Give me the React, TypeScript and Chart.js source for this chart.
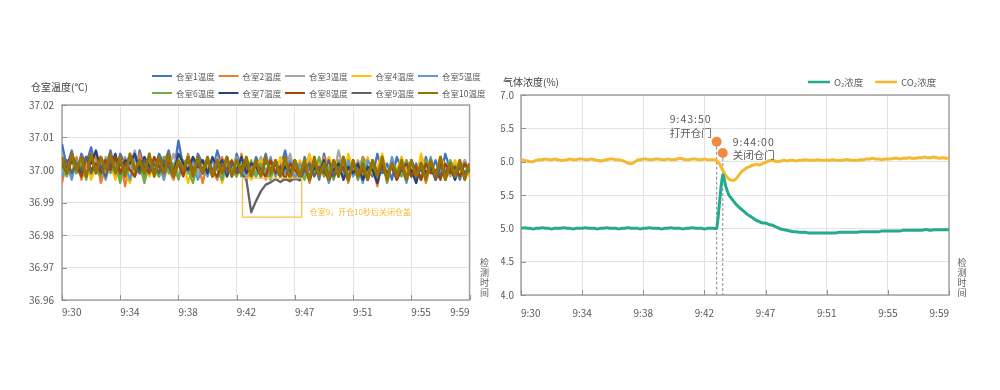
import React, { useEffect, useRef } from 'react';
import { Chart, registerables } from 'chart.js';

Chart.register(...registerables);

const FONT = '"Noto Sans CJK SC", "Noto Sans", "DejaVu Sans", sans-serif';
Chart.defaults.font.family = FONT;

// ---------------- data ----------------
const timeLabels = ['9:30', '9:34', '9:38', '9:42', '9:47', '9:51', '9:55', '9:59'];

const roomNames = ['仓室1温度', '仓室2温度', '仓室3温度', '仓室4温度', '仓室5温度', '仓室6温度', '仓室7温度', '仓室8温度', '仓室9温度', '仓室10温度'];
const roomColors = ['#4472C4', '#ED7D31', '#A5A5A5', '#FFC000', '#5B9BD5', '#70AD47', '#264478', '#9E480E', '#636363', '#997300'];

const room1 = [
  37.008, 37.001, 37.006, 36.999, 37.005, 37.002, 37.007, 37.000, 37.004, 37.001,
  37.006, 36.999, 37.005, 37.002, 37.004, 36.998, 37.006, 37.001, 37.003, 37.000,
  37.005, 37.002, 37.006, 36.999, 37.009, 37.001, 37.004, 36.998, 37.005, 37.002,
  37.003, 36.999, 37.006, 37.001, 37.004, 36.998, 37.005, 37.000, 37.003, 36.999,
  37.004, 37.000, 37.005, 36.998, 37.003, 37.001, 37.006, 36.999, 37.002, 36.997,
  37.004, 37.000, 37.003, 36.997, 37.005, 36.999, 37.002, 36.998, 37.004, 37.000,
  37.003, 36.997, 37.004, 37.001, 36.998, 37.005, 36.999, 37.002, 36.997, 37.004,
  37.000, 37.003, 36.998, 37.002, 36.997, 37.004, 36.999, 37.003, 36.998, 37.005,
  37.000, 37.002, 36.997, 37.003, 36.999,
];
const room2 = [
  36.996, 37.003, 36.999, 37.004, 36.997, 37.002, 36.998, 37.005, 36.996, 37.001,
  37.003, 36.998, 37.004, 36.995, 37.002, 36.999, 37.005, 36.997, 37.001, 37.003,
  36.998, 37.004, 37.000, 36.997, 37.003, 36.999, 37.005, 36.998, 37.002, 36.996,
  37.003, 37.000, 36.997, 37.004, 36.999, 37.002, 36.998, 37.005, 36.997, 37.001,
  36.999, 37.003, 36.997, 37.002, 37.000, 36.998, 37.004, 36.997, 37.001, 36.999,
  37.003, 36.996, 37.002, 36.999, 37.004, 36.997, 37.001, 36.998, 37.003, 36.996,
  37.002, 36.999, 37.004, 36.997, 37.001, 36.995, 37.003, 36.998, 37.002, 36.999,
  37.004, 36.997, 37.001, 36.999, 37.003, 36.996, 37.002, 36.998, 37.004, 36.997,
  37.001, 36.999, 37.003, 36.997, 37.002,
];
const room3 = [
  37.002, 36.999, 37.004, 37.000, 37.003, 36.998, 37.005, 37.001, 36.999, 37.004,
  37.000, 37.003, 36.998, 37.004, 37.001, 37.006, 36.999, 37.002, 37.000, 37.004,
  36.999, 37.003, 37.001, 37.005, 36.998, 37.002, 37.000, 37.004, 36.999, 37.003,
  37.001, 36.998, 37.004, 37.000, 37.002, 36.999, 37.003, 37.001, 36.998, 37.002,
  37.000, 37.004, 36.999, 37.002, 36.998, 37.003, 37.000, 37.005, 36.999, 37.002,
  36.998, 37.003, 37.000, 37.002, 36.999, 37.004, 36.998, 37.006, 37.000, 37.002,
  36.999, 37.003, 37.000, 36.998, 37.002, 37.000, 37.004, 36.999, 37.002, 36.998,
  37.003, 37.000, 37.002, 36.998, 37.004, 37.000, 37.002, 36.999, 37.003, 37.001,
  36.998, 37.002, 37.000, 37.003, 36.999,
];
const room4 = [
  37.000, 37.003, 36.998, 37.002, 36.999, 37.004, 36.997, 37.001, 37.003, 36.998,
  37.002, 36.997, 37.003, 37.000, 36.996, 37.002, 36.999, 37.004, 36.998, 37.001,
  37.003, 36.997, 37.002, 37.000, 36.998, 37.003, 36.996, 37.001, 37.004, 36.999,
  37.002, 36.998, 37.003, 36.996, 37.001, 37.000, 37.004, 36.998, 37.002, 36.997,
  37.001, 37.003, 36.999, 37.002, 36.998, 37.004, 37.000, 37.002, 36.998, 37.003,
  37.000, 37.005, 36.999, 37.002, 36.998, 37.004, 37.000, 37.003, 36.997, 37.005,
  37.000, 37.002, 36.998, 37.004, 36.999, 37.001, 37.005, 36.998, 37.002, 37.000,
  37.004, 36.999, 37.002, 36.997, 37.005, 37.000, 37.002, 36.998, 37.004, 37.001,
  36.999, 37.003, 37.000, 37.002, 36.998,
];
const room5 = [
  36.998, 37.002, 36.997, 37.003, 37.000, 36.998, 37.004, 36.999, 37.002, 36.997,
  37.003, 37.000, 36.998, 37.002, 36.997, 37.004, 37.000, 36.998, 37.003, 36.999,
  37.002, 36.997, 37.004, 37.000, 36.998, 37.002, 36.999, 37.003, 36.997, 37.001,
  36.998, 37.003, 37.000, 36.997, 37.002, 36.999, 37.004, 36.998, 37.001, 37.000,
  36.998, 37.002, 36.999, 37.004, 36.998, 37.001, 36.999, 37.003, 36.997, 37.002,
  37.000, 36.997, 37.003, 36.999, 37.001, 36.996, 37.002, 37.000, 36.998, 37.003,
  36.998, 37.001, 36.996, 37.003, 37.000, 36.998, 37.002, 36.997, 37.004, 36.999,
  37.001, 36.996, 37.003, 36.999, 37.001, 36.998, 37.004, 36.997, 37.002, 36.999,
  37.003, 36.997, 37.001, 36.999, 37.002,
];
const room6 = [
  37.001, 36.998, 37.003, 36.999, 37.002, 36.997, 37.004, 37.000, 36.998, 37.003,
  36.999, 37.002, 36.996, 37.003, 37.000, 36.998, 37.002, 36.996, 37.003, 37.000,
  36.998, 37.004, 36.999, 37.002, 36.997, 37.003, 37.000, 36.996, 37.002, 36.999,
  37.003, 36.998, 37.001, 36.997, 37.004, 37.000, 36.998, 37.002, 36.999, 37.003,
  36.998, 37.002, 37.000, 36.997, 37.003, 36.999, 37.002, 36.998, 37.003, 37.000,
  36.997, 37.002, 36.999, 37.004, 36.998, 37.001, 36.997, 37.003, 37.000, 36.998,
  37.002, 36.997, 37.003, 36.999, 37.001, 36.998, 37.003, 36.996, 37.002, 37.000,
  36.998, 37.003, 36.999, 37.001, 36.997, 37.003, 37.000, 36.998, 37.002, 36.997,
  37.003, 37.000, 36.998, 37.002, 36.999,
];
const room7 = [
  37.004, 37.000, 37.005, 37.001, 36.999, 37.004, 37.002, 37.006, 37.000, 37.003,
  37.001, 37.005, 36.999, 37.003, 37.002, 37.005, 37.000, 37.004, 37.001, 36.999,
  37.004, 37.001, 37.003, 36.999, 37.005, 37.002, 37.000, 37.004, 37.001, 37.003,
  36.999, 37.004, 37.001, 37.003, 36.998, 37.002, 37.000, 37.004, 36.999, 37.002,
  37.001, 36.998, 37.003, 37.000, 37.002, 36.998, 37.001, 36.999, 37.003, 36.998,
  37.002, 36.997, 37.001, 36.999, 37.003, 36.997, 37.000, 37.002, 36.997, 37.001,
  36.999, 37.002, 36.997, 37.001, 37.000, 36.996, 37.002, 36.999, 37.001, 36.997,
  37.002, 36.998, 37.000, 36.996, 37.002, 36.999, 37.001, 36.997, 37.002, 36.999,
  37.001, 36.997, 37.002, 36.999, 37.000,
];
const room8 = [
  37.002, 36.999, 37.003, 37.001, 36.998, 37.004, 37.000, 37.002, 36.999, 37.003,
  37.000, 37.004, 36.999, 37.002, 37.000, 36.998, 37.003, 37.001, 36.999, 37.004,
  37.001, 36.999, 37.003, 37.000, 37.002, 36.998, 37.004, 37.000, 37.002, 36.999,
  37.003, 37.000, 36.998, 37.002, 37.000, 37.003, 36.999, 37.001, 37.002, 36.998,
  37.002, 37.000, 36.998, 37.003, 36.999, 37.001, 36.997, 37.002, 37.000, 36.998,
  37.001, 36.997, 37.002, 36.999, 37.000, 36.997, 37.003, 36.999, 37.001, 36.997,
  37.002, 36.998, 37.000, 36.997, 37.003, 36.999, 37.001, 36.998, 37.002, 36.997,
  37.000, 37.002, 36.998, 37.001, 36.997, 37.002, 36.999, 37.000, 36.997, 37.002,
  36.999, 37.001, 36.998, 37.002, 37.000,
];
const room9 = [
  37.001, 37.003, 36.999, 37.002, 37.000, 37.004, 36.999, 37.002, 37.001, 36.998,
  37.003, 37.000, 37.002, 36.999, 37.004, 37.001, 36.999, 37.003, 37.000, 37.002,
  36.999, 37.003, 37.001, 36.998, 37.002, 37.000, 37.003, 36.999, 37.002, 37.000,
  37.003, 36.999, 37.001, 37.002, 36.999, 37.002, 37.000, 36.999, 36.997, 36.987,
  36.9905, 36.9935, 36.9955, 36.9962, 36.9972, 36.9963, 36.9973, 36.9965, 36.9975, 36.9968,
  37.000, 37.002, 36.998, 37.001, 36.999, 37.003, 36.998, 37.001, 37.000, 36.997,
  37.002, 36.999, 37.001, 36.997, 37.003, 36.999, 37.000, 36.998, 37.002, 36.999,
  37.001, 36.997, 37.003, 36.999, 37.000, 36.998, 37.002, 36.997, 37.001, 36.999,
  37.002, 36.998, 37.001, 36.999, 37.000,
];
const room10 = [
  37.004, 36.999, 37.005, 37.000, 37.004, 36.998, 37.005, 36.999, 37.004, 37.000,
  37.005, 36.999, 37.004, 36.998, 37.005, 37.000, 37.003, 36.999, 37.005, 36.998,
  37.004, 36.999, 37.005, 36.998, 37.003, 37.000, 37.004, 36.998, 37.004, 36.999,
  37.004, 36.998, 37.003, 36.999, 37.004, 36.998, 37.003, 36.999, 37.004, 36.998,
  37.003, 36.998, 37.004, 36.999, 37.003, 36.998, 37.004, 36.997, 37.003, 36.998,
  37.003, 36.997, 37.004, 36.998, 37.002, 36.997, 37.003, 36.998, 37.004, 36.997,
  37.003, 36.998, 37.002, 36.997, 37.003, 36.998, 37.004, 36.997, 37.002, 36.998,
  37.003, 36.997, 37.003, 36.998, 37.002, 36.997, 37.003, 36.998, 37.004, 36.997,
  37.002, 36.998, 37.003, 36.997, 37.002,
];

const tempMin = 36.96;
const tempMax = 37.02;
const tempStep = 0.01;
const noteSpan = [37.2, 49.4];
const noteTemps = [36.9855, 36.9975];
const noteText = '仓室9，开仓10秒后关闭仓盖';

const o2Conc = [
  5.00, 5.01, 5.00, 5.00, 4.99, 5.00, 5.00, 5.01, 5.00, 5.00,
  4.99, 5.00, 5.00, 5.00, 5.01, 5.00, 5.00, 4.99, 5.00, 5.00,
  5.00, 5.01, 5.00, 5.00, 5.00, 4.99, 5.00, 5.00, 5.01, 5.00,
  5.00, 5.00, 4.99, 5.00, 5.00, 5.01, 5.00, 5.00, 5.00, 4.99,
  5.00, 5.00, 5.01, 5.00, 5.00, 5.00, 4.99, 5.00, 5.00, 5.01,
  5.00, 5.00, 5.00, 4.99, 5.00, 5.00, 5.01, 5.00, 5.00, 5.00,
  4.99, 5.00, 5.00, 5.00, 5.00, 5.42, 5.80, 5.63, 5.50, 5.44,
  5.38, 5.33, 5.29, 5.25, 5.21, 5.18, 5.15, 5.12, 5.10, 5.08,
  5.08, 5.06, 5.05, 5.03, 5.01, 4.99, 4.98, 4.97, 4.96, 4.95,
  4.95, 4.94, 4.94, 4.94, 4.93, 4.93, 4.93, 4.93, 4.93, 4.93,
  4.93, 4.93, 4.93, 4.93, 4.94, 4.94, 4.94, 4.94, 4.94, 4.94,
  4.94, 4.95, 4.95, 4.95, 4.95, 4.95, 4.95, 4.95, 4.96, 4.96,
  4.96, 4.96, 4.96, 4.96, 4.96, 4.97, 4.97, 4.97, 4.97, 4.97,
  4.97, 4.97, 4.98, 4.98, 4.97, 4.98, 4.98, 4.98, 4.98, 4.98,
  4.98,
];
const co2Conc = [
  6.03, 6.02, 6.01, 6.00, 6.00, 6.02, 6.03, 6.03, 6.04, 6.03,
  6.03, 6.04, 6.03, 6.02, 6.02, 6.03, 6.04, 6.03, 6.03, 6.04,
  6.04, 6.03, 6.03, 6.04, 6.03, 6.02, 6.01, 6.02, 6.03, 6.04,
  6.04, 6.03, 6.03, 6.02, 6.00, 5.98, 5.97, 5.99, 6.02, 6.03,
  6.04, 6.04, 6.03, 6.03, 6.04, 6.04, 6.03, 6.03, 6.04, 6.03,
  6.03, 6.04, 6.05, 6.04, 6.03, 6.03, 6.04, 6.04, 6.03, 6.03,
  6.04, 6.03, 6.03, 6.03, 6.02, 5.96, 5.87, 5.79, 5.74, 5.72,
  5.73, 5.78, 5.84, 5.88, 5.91, 5.93, 5.95, 5.96, 5.95, 5.97,
  5.99, 6.01, 6.02, 6.01, 6.00, 6.01, 6.02, 6.01, 6.02, 6.02,
  6.01, 6.02, 6.02, 6.03, 6.02, 6.02, 6.02, 6.03, 6.02, 6.02,
  6.02, 6.02, 6.03, 6.02, 6.02, 6.02, 6.03, 6.03, 6.02, 6.02,
  6.02, 6.03, 6.03, 6.04, 6.04, 6.05, 6.04, 6.04, 6.03, 6.04,
  6.04, 6.04, 6.05, 6.05, 6.04, 6.05, 6.05, 6.06, 6.05, 6.05,
  6.06, 6.06, 6.07, 6.06, 6.06, 6.07, 6.06, 6.05, 6.06, 6.05,
  6.05,
];
const gasNames = ['O₂浓度', 'CO₂浓度'];
const gasColors = ['#25A98F', '#F5B82E'];
const gasMin = 4;
const gasMax = 7;
const gasStep = 0.5;

const eventIndex = [64, 66];
const eventLevel = [6.30, 6.13];
const eventTime = ['9:43:50', '9:44:00'];
const eventAction = ['打开仓门', '关闭仓门'];
const eventColor = '#F08A41';

// ---------------- helpers ----------------
const toXY = (vals: number[]) => vals.map((y, x) => ({ x, y }));
const TICK_COLOR = '#595959';
const GRID_COLOR = '#e3e3e3';

const framePlugin = {
  id: 'frame',
  beforeDatasetsDraw(chart: any) {
    const { ctx, chartArea: a, scales } = chart;
    ctx.save();
    ctx.strokeStyle = '#a3a3a3';
    ctx.lineWidth = 1.5;
    ctx.strokeRect(a.left, a.top, a.right - a.left, a.bottom - a.top);
    ctx.strokeStyle = '#8f8f8f';
    ctx.lineWidth = 1;
    ctx.beginPath();
    scales.x.ticks.forEach((t: any) => {
      const px = Math.round(scales.x.getPixelForValue(t.value)) + 0.5;
      ctx.moveTo(px, a.bottom);
      ctx.lineTo(px, a.bottom - 5);
    });
    scales.y.ticks.forEach((t: any) => {
      const py = Math.round(scales.y.getPixelForValue(t.value)) + 0.5;
      ctx.moveTo(a.left, py);
      ctx.lineTo(a.left + 5, py);
    });
    ctx.stroke();
    ctx.restore();
  },
};

const legendGrid = {
  id: 'legendGrid',
  afterDraw(chart: any, _args: any, o: any) {
    const { ctx } = chart;
    const items = chart.data.datasets.filter((d: any) => d.inLegend !== false);
    ctx.save();
    ctx.font = `${o.fontSize}px ${FONT}`;
    ctx.textBaseline = 'middle';
    ctx.textAlign = 'left';
    items.forEach((d: any, i: number) => {
      const col = i % o.cols;
      const row = Math.floor(i / o.cols);
      const x = o.x + col * o.colStep;
      const y = o.y + row * o.rowStep;
      ctx.strokeStyle = d.borderColor;
      ctx.lineWidth = o.lineWidth;
      ctx.beginPath();
      ctx.moveTo(x, y);
      ctx.lineTo(x + o.lineLen, y);
      ctx.stroke();
      ctx.fillStyle = TICK_COLOR;
      ctx.fillText(d.label, x + o.lineLen + o.gap, y + 0.5);
    });
    ctx.restore();
  },
};

const chartText = {
  id: 'chartText',
  afterDraw(chart: any, _args: any, o: any) {
    const { ctx } = chart;
    ctx.save();
    ctx.fillStyle = '#404040';
    ctx.font = `10px ${FONT}`;
    ctx.textBaseline = 'middle';
    ctx.textAlign = 'left';
    ctx.fillText(o.title, o.titleX, o.titleY);
    ctx.fillStyle = TICK_COLOR;
    ctx.font = `9px ${FONT}`;
    ctx.textAlign = 'center';
    const chars = Array.from(o.vertical as string);
    chars.forEach((c, i) => ctx.fillText(c, o.vX, o.vBottom - (chars.length - 1 - i) * 10));
    ctx.restore();
  },
};

const tickAlign = {
  id: 'tickAlign',
  beforeDraw(chart: any) {
    const sx = chart.scales.x;
    if (!sx || typeof sx.getLabelItems !== 'function') return;
    const items = sx.getLabelItems(chart.chartArea);
    if (items && items.length) items[items.length - 1].options.textAlign = 'right';
  },
};

const noteBox = {
  id: 'noteBox',
  afterDatasetsDraw(chart: any) {
    const { ctx, scales: { x, y } } = chart;
    const x1 = x.getPixelForValue(noteSpan[0]);
    const x2 = x.getPixelForValue(noteSpan[1]);
    const y1 = y.getPixelForValue(noteTemps[1]);
    const y2 = y.getPixelForValue(noteTemps[0]);
    ctx.save();
    ctx.strokeStyle = '#F7C04A';
    ctx.lineWidth = 1.3;
    ctx.strokeRect(x1, y1, x2 - x1, y2 - y1);
    ctx.fillStyle = '#F5B92E';
    ctx.font = `8px ${FONT}`;
    ctx.textBaseline = 'middle';
    ctx.textAlign = 'left';
    ctx.fillText(noteText, x2 + 8, y2 - 5);
    ctx.restore();
  },
};

const eventNotes = {
  id: 'eventNotes',
  afterDatasetsDraw(chart: any) {
    const { ctx, scales: { x, y } } = chart;
    ctx.save();
    ctx.fillStyle = TICK_COLOR;
    ctx.font = `10.5px ${FONT}`;
    ctx.textBaseline = 'middle';
    eventIndex.forEach((idx, i) => {
      const px = x.getPixelForValue(idx);
      const py = y.getPixelForValue(eventLevel[i]);
      let tx: number, ty1: number, ty2: number;
      if (i === 0) {
        ctx.textAlign = 'right';
        tx = px - 5; ty1 = py - 23; ty2 = py - 9;
      } else {
        ctx.textAlign = 'left';
        tx = px + 10; ty1 = py - 11; ty2 = py + 2;
      }
      (ctx as any).letterSpacing = '1px';
      ctx.fillText(eventTime[i], tx, ty1);
      (ctx as any).letterSpacing = '0px';
      ctx.fillText(eventAction[i], tx, ty2);
    });
    ctx.restore();
  },
};

function xScale(last: number, step: number, align: string, padding: number) {
  return {
    type: 'linear',
    min: 0,
    max: last,
    afterFit: (s: any) => { s.height = 40; },
    ticks: {
      stepSize: step,
      autoSkip: false,
      maxRotation: 0,
      align,
      padding,
      color: TICK_COLOR,
      font: { size: 10 },
      callback: (v: any) => timeLabels[Math.round(Number(v) / step)] ?? '',
    },
    grid: { color: GRID_COLOR, drawTicks: false },
    border: { display: false },
  };
}

function leftConfig(): any {
  const rooms = [room1, room2, room3, room4, room5, room6, room7, room8, room9, room10];
  const last = room1.length - 1;
  const step = last / (timeLabels.length - 1);
  return {
    type: 'line',
    data: {
      datasets: rooms.map((vals, i) => ({
        label: roomNames[i],
        data: toXY(vals),
        borderColor: roomColors[i],
        backgroundColor: roomColors[i],
        borderWidth: i === rooms.length - 1 ? 2.8 : 2.3,
        borderJoinStyle: 'round',
        pointRadius: 0,
        tension: 0,
        order: rooms.length - 1 - i,
      })),
    },
    options: {
      responsive: false,
      animation: false,
      events: [],
      layout: { padding: { left: 22, right: 20, top: 105, bottom: 50 } },
      plugins: {
        legend: { display: false },
        tooltip: { enabled: false },
        legendGrid: { x: 152, y: 76, cols: 5, colStep: 66.5, rowStep: 17, lineLen: 20, gap: 4, fontSize: 8.5, lineWidth: 2 },
        chartText: { title: '仓室温度(°C)', titleX: 31, titleY: 87, vertical: '检测时间', vX: 484.5, vBottom: 293 },
      },
      scales: {
        x: xScale(last, step, 'start', 6),
        y: {
          min: tempMin,
          max: tempMax,
          afterFit: (s: any) => { s.width = 40; },
          ticks: { stepSize: tempStep, padding: 8, color: TICK_COLOR, font: { size: 10 }, callback: (v: any) => Number(v).toFixed(2) },
          grid: { color: GRID_COLOR, drawTicks: false },
          border: { display: false },
        },
      },
    },
    plugins: [framePlugin, legendGrid, chartText, tickAlign, noteBox],
  };
}

function rightConfig(): any {
  const last = o2Conc.length - 1;
  const step = last / (timeLabels.length - 1);
  const series = [o2Conc, co2Conc];
  const datasets: any[] = series.map((vals, i) => ({
    label: gasNames[i],
    data: toXY(vals),
    borderColor: gasColors[i],
    backgroundColor: gasColors[i],
    borderWidth: 3,
    borderJoinStyle: 'round',
    pointRadius: 0,
    tension: 0.25,
    order: i + 1,
  }));
  eventIndex.forEach((idx, i) => {
    datasets.push({
      label: 'guide' + i,
      inLegend: false,
      data: [{ x: idx, y: eventLevel[i] }, { x: idx, y: gasMin }],
      borderColor: '#8a8a8a',
      borderWidth: 1,
      borderDash: [3, 2],
      pointRadius: 0,
      order: 5,
    });
  });
  datasets.push({
    label: 'events',
    inLegend: false,
    data: eventIndex.map((idx, i) => ({ x: idx, y: eventLevel[i] })),
    showLine: false,
    pointRadius: 5,
    pointBorderWidth: 0,
    pointBackgroundColor: eventColor,
    borderColor: eventColor,
    order: 0,
  });
  return {
    type: 'line',
    data: { datasets },
    options: {
      responsive: false,
      animation: false,
      events: [],
      layout: { padding: { left: 6, right: 51, top: 95, bottom: 55 } },
      plugins: {
        legend: { display: false },
        tooltip: { enabled: false },
        legendGrid: { x: 313, y: 82, cols: 2, colStep: 67, rowStep: 17, lineLen: 22, gap: 4, fontSize: 9.5, lineWidth: 2.5 },
        chartText: { title: '气体浓度(%)', titleX: 8, titleY: 82, vertical: '检测时间', vX: 467, vBottom: 293 },
      },
      scales: {
        x: xScale(last, step, 'inner', 12),
        y: {
          min: gasMin,
          max: gasMax,
          afterFit: (s: any) => { s.width = 20; },
          ticks: { stepSize: gasStep, padding: 7, color: TICK_COLOR, font: { size: 10 }, callback: (v: any) => Number(v).toFixed(1) },
          grid: { color: GRID_COLOR, drawTicks: false },
          border: { display: false },
        },
      },
    },
    plugins: [framePlugin, legendGrid, chartText, eventNotes],
  };
}

export default function App() {
  const leftRef = useRef<HTMLCanvasElement>(null);
  const rightRef = useRef<HTMLCanvasElement>(null);
  useEffect(() => {
    const c1 = new Chart(leftRef.current as HTMLCanvasElement, leftConfig());
    const c2 = new Chart(rightRef.current as HTMLCanvasElement, rightConfig());
    return () => {
      c1.destroy();
      c2.destroy();
    };
  }, []);
  return (
    <div style={{ position: 'fixed', left: 0, top: 0, width: 1000, height: 390, background: '#fff', overflow: 'hidden' }}>
      <canvas ref={leftRef} width={495} height={390} style={{ position: 'absolute', left: 0, top: 0 }} />
      <canvas ref={rightRef} width={505} height={390} style={{ position: 'absolute', left: 495, top: 0 }} />
    </div>
  );
}
